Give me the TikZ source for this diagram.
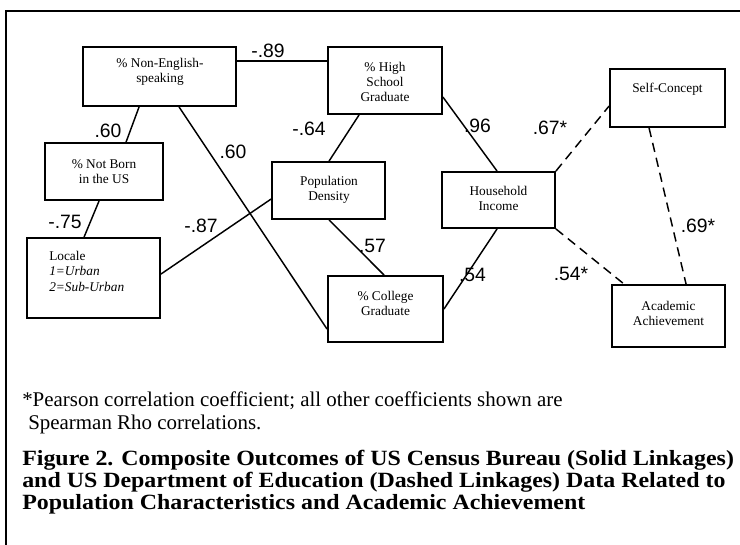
\documentclass[tikz,border=0pt]{standalone}
\usepackage{fontspec}
\setmainfont{Liberation Serif}
\newfontfamily\numfont{Liberation Sans}
\newfontfamily\capfont[FakeStretch=1.1]{Liberation Serif}
\usetikzlibrary{calc}
\begin{document}
\begin{tikzpicture}[x=0.75pt,y=-0.75pt,
  box/.style={draw, line width=1.4pt, inner sep=0pt},
  wh/.style 2 args={minimum width=#1*0.75pt, minimum height=#2*0.75pt},
  boxtext/.style={font=\fontsize{10}{11.5}\selectfont, align=center, inner sep=0pt},
  link/.style={line width=1.1pt},
  dlink/.style={line width=1.1pt, dash pattern=on 7pt off 4.5pt},
  coef/.style={font=\numfont\fontsize{14.5}{14.5}\selectfont, inner sep=0pt},
  note/.style={font=\fontsize{15.7}{17}\selectfont, inner sep=0pt, anchor=base west},
  capline/.style={font=\capfont\bfseries\fontsize{16.3}{16.3}\selectfont, inner sep=0pt, anchor=base west}]
\useasboundingbox (0,0) rectangle (740,545);
\fill[white] (0,0) rectangle (740,545);

% frame: top and left rules
\draw[line width=1.1pt] (740,11) -- (6,11) -- (6,545);

% variable boxes
\node[box, wh={153}{59}] (ne) at (159.5,76.5) {};
\node[box, wh={114}{67}] (hs) at (385,80.5) {};
\node[box, wh={118}{57}] (nb) at (104,171.5) {};
\node[box, wh={113}{57}] (pd) at (328.5,190.5) {};
\node[box, wh={133}{80}] (lo) at (93.5,278) {};
\node[box, wh={115}{66}] (cg) at (385.5,309) {};
\node[box, wh={113}{56}] (hi) at (498.5,200) {};
\node[box, wh={115}{58}] (sc) at (667.5,98) {};
\node[box, wh={113}{62}] (aa) at (668.5,316) {};

% box captions
\node[boxtext] (neT) at (160,71.5) {\% Non-English-\\speaking};
\node[boxtext] (hsT) at (385,82) {\% High\\School\\Graduate};
\node[boxtext] (nbT) at (104,171.5) {\% Not Born\\in the US};
\node[boxtext] (pdT) at (329,189.5) {Population\\Density};
\node[boxtext, align=left, anchor=north west] (loT) at (49,251) {Locale\\\textit{1=Urban}\\\textit{2=Sub-Urban}};
\node[boxtext] (cgT) at (385.5,303.5) {\% College\\Graduate};
\node[boxtext] (hiT) at (498.5,198.5) {Household\\Income};
\node[boxtext] (scT) at (667.5,89) {Self-Concept};
\node[boxtext] (aaT) at (668.5,313.5) {Academic\\Achievement};

% census linkages (solid)
\draw[link] ($(ne.north east)+(0,15)$) -- ($(hs.north west)+(0,15)$);
\draw[link] ($(ne.south west)+(57,0)$) -- ($(nb.north west)+(82,0)$);
\draw[link] ($(nb.south west)+(55,0)$) -- ($(lo.north west)+(58,0)$);
\draw[link] ($(ne.south west)+(97,0)$) -- ($(cg.north west)+(0,54)$);
\draw[link] ($(hs.south west)+(32,0)$) -- ($(pd.north west)+(58,0)$);
\draw[link] ($(pd.north west)+(0,38)$) -- ($(lo.north east)+(0,37)$);
\draw[link] ($(pd.south west)+(58,0)$) -- ($(cg.north west)+(57,0)$);
\draw[link] ($(hs.north east)+(0,51)$) -- ($(hi.north west)+(56,0)$);
\draw[link] ($(hi.south west)+(56,0)$) -- ($(cg.north east)+(0,34)$);

% education linkages (dashed)
\draw[dlink] (hi.north east) -- ($(sc.north west)+(0,38)$);
\draw[dlink] (hi.south east) -- ($(aa.north west)+(13,0)$);
\draw[dlink] ($(sc.south west)+(40,0)$) -- ($(aa.north west)+(75,0)$);

% coefficients
\node[coef] (c1) at (268,51) {-.89};
\node[coef] (c2) at (108,131) {.60};
\node[coef] (c3) at (65,222) {-.75};
\node[coef] (c4) at (233,152) {.60};
\node[coef] (c5) at (309,129) {-.64};
\node[coef] (c6) at (201,226) {-.87};
\node[coef] (c7) at (372.5,246) {.57};
\node[coef] (c8) at (477.5,126) {.96};
\node[coef] (c9) at (472.5,275) {.54};
\node[coef] (c10) at (550,128) {.67*};
\node[coef] (c11) at (571,274) {.54*};
\node[coef] (c12) at (698,226) {.69*};

% footnote and caption
\node[note] (fn1) at (22,407) {*Pearson correlation coefficient; all other coefficients shown are};
\node[note] (fn2) at (28,430) {Spearman Rho correlations.};
\node[capline] (cap1) at (22,466) {Figure 2. Composite Outcomes of US Census Bureau (Solid Linkages)};
\node[capline] (cap2) at (22,488) {and US Department of Education (Dashed Linkages) Data Related to};
\node[capline] (cap3) at (22,510) {Population Characteristics and Academic Achievement};
\end{tikzpicture}
\end{document}
